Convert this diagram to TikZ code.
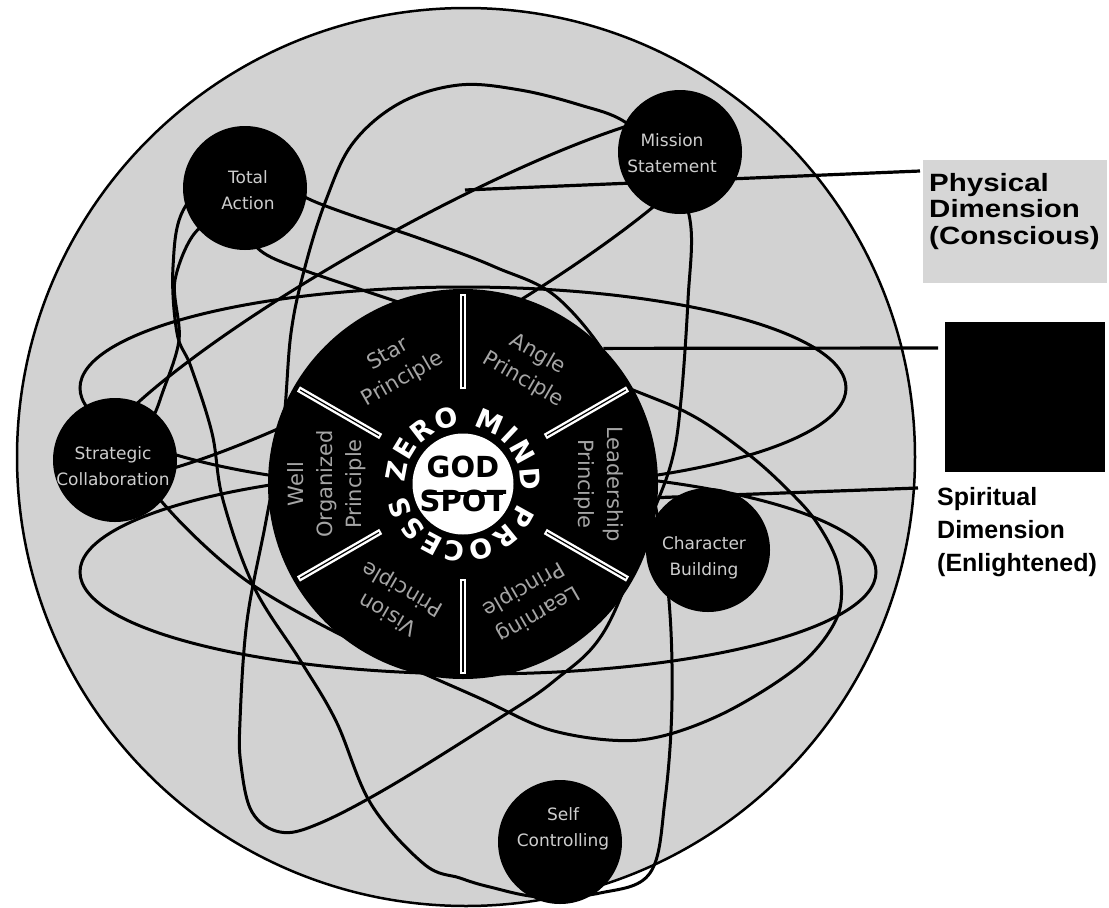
\documentclass[tikz,border=0pt]{standalone}
\usepackage{fontspec}
\setmainfont{DejaVu Sans}
\newfontfamily\physfont[FakeStretch=1.18]{Liberation Sans}
\newfontfamily\spirfont{Liberation Sans}
\usetikzlibrary{decorations.text}
\definecolor{ringgray}{RGB}{210,210,210}
\definecolor{boxgray}{RGB}{214,214,214}
\definecolor{elec}{RGB}{205,205,205}
\definecolor{secttxt}{RGB}{165,165,165}
\newcommand\zmpfont{\fontsize{27}{27}\selectfont\bfseries}
\begin{document}
\begin{tikzpicture}[x=1pt,y=1pt,
  orbit/.style={line width=3pt},
  electron/.style={circle,fill=black,minimum size=124pt,inner sep=0pt},
  etext/.style={text=elec,font=\fontsize{17}{26}\selectfont,align=center},
  sector/.style={text=secttxt,font=\fontsize{21}{29}\selectfont,align=center},
  divwhite/.style={white,line width=6pt},
  divcore/.style={black,line width=1.2pt},
  leader/.style={line width=3.2pt}]
\useasboundingbox (0,0) rectangle (1109,-908);
\fill[white] (0,0) rectangle (1109,-908);
\node[circle,draw,line width=2.5pt,fill=ringgray,minimum size=898pt,inner sep=0pt] (outer) at (466,-457) {};
% orbits
\draw[orbit] (463,-388) ellipse [x radius=383pt, y radius=101pt];
\draw[orbit] (478,-572) ellipse [x radius=398pt, y radius=102pt];
\draw[orbit, rotate around={29.2:(407,-295)}] (407,-295) ellipse [x radius=360pt, y radius=62pt];
\draw[orbit] plot[smooth cycle, tension=0.6] coordinates {(235,-165) (318,-203) (424,-240) (495,-267) (560,-300) (620,-380) (650,-480) (668,-590) (672,-700) (665,-800) (650,-873) (600,-893) (540,-897) (490,-887) (460,-878) (424,-864) (371,-804) (336,-721) (300,-660) (254,-587) (223,-500) (212,-433) (191,-367) (177,-333) (173,-267) (185,-207)};
\draw[orbit] plot[smooth cycle, tension=0.6] coordinates {(459,-85) (520,-90) (580,-105) (625,-122) (665,-160) (690,-220) (688,-300) (681,-400) (672,-460) (650,-520) (605,-630) (554,-681) (495,-721) (389,-787) (318,-824) (280,-832) (252,-812) (241,-765) (240,-721) (247,-621) (266,-521) (283,-427) (291,-333) (305,-267) (326,-200) (353,-143) (400,-103)};
\draw[orbit] plot[smooth cycle, tension=0.55] coordinates {(277,-260) (450,-320) (633,-390) (695,-417) (748,-454) (783,-485) (815,-520) (838,-565) (838,-615) (800,-665) (720,-715) (640,-740) (554,-731) (477,-697) (353,-641) (247,-581) (170,-511) (140,-462) (160,-400) (179,-340) (175,-280) (200,-228) (245,-232)};
% wheel
\node[circle,fill=black,minimum size=390pt,inner sep=0pt] (wheel) at (463,-484) {};
\foreach \a in {90,30,-30,-90,-150,150} {
  \draw[divwhite] ([shift={(\a:95pt)}]wheel.center) -- ([shift={(\a:190pt)}]wheel.center);
  \draw[divcore] ([shift={(\a:97pt)}]wheel.center) -- ([shift={(\a:188pt)}]wheel.center);
}
\node[sector,rotate=30] (starp) at (395.5,-367) {Star\\Principle};
\node[sector,rotate=-30] (angp) at (530.5,-367) {Angle\\Principle};
\node[sector,rotate=-90] (leadp) at (599,-484) {Leadership\\Principle};
\node[sector,rotate=-150] (learnp) at (530.5,-601) {Learning\\Principle};
\node[sector,rotate=150] (visp) at (395.5,-601) {Vision\\Principle};
\node[sector,rotate=90] (wellp) at (327,-484) {Well\\Organized\\Principle};
% center
\node[circle,fill=white,minimum size=101pt,inner sep=0pt] (god) at (463,-484) {};
\node[font=\fontsize{29}{34}\selectfont\bfseries,align=center] (godtxt) at (463,-484) {GOD\\SPOT};
\draw[line width=3pt] ([shift={(-40pt,-9pt)}]god.center) -- ([shift={(40pt,-9pt)}]god.center);
\path[decorate, decoration={text along path, text format delimiters={|}{|}, text={|\zmpfont|ZERO MIND PROCESS}, text color=white, text align=fit to path}] ([shift={(179:58pt)}]god.center) arc[start angle=179, end angle=-169, radius=58pt];
% leaders
\coordinate (physA) at (465,-190);
\coordinate (physB) at (920,-171);
\draw[leader] (physA) -- (physB);
\coordinate (sqA) at (938,-348);
\draw[leader] (wheel.44) -- (sqA);
\coordinate (spA) at (918,-488);
\draw[leader] (wheel.-4) -- (spA);
% electrons
\node[electron] (ta) at (245,-188) {};
\node[etext] (tat) at (248,-190) {Total\\Action};
\node[electron] (ms) at (680,-152) {};
\node[etext] (mst) at (672,-153) {Mission\\Statement};
\node[electron] (sc) at (115,-460) {};
\node[etext] (sct) at (113,-466) {Strategic\\Collaboration};
\node[electron] (cb) at (708,-550) {};
\node[etext] (cbt) at (704,-558) {Character\\Building};
\node[electron] (sf) at (560,-842) {};
\node[etext] (sft) at (563,-829) {Self\\Controlling};
% right labels
\node[fill=boxgray,minimum width=184pt,minimum height=123pt,inner sep=0pt] (physbox) at (1015,-221.5) {};
\node[anchor=north west,inner sep=0pt,align=left,font=\physfont\bfseries\fontsize{25}{26.5}\selectfont] (phys) at (929,-173) {Physical\\Dimension\\(Conscious)};
\node[fill=black,minimum width=160pt,minimum height=150pt,inner sep=0pt] (sq) at (1025,-397) {};
\node[anchor=north west,inner sep=0pt,align=left,font=\spirfont\bfseries\fontsize{25}{33}\selectfont] (spir) at (937,-487) {Spiritual\\Dimension\\(Enlightened)};
\end{tikzpicture}
\end{document}
